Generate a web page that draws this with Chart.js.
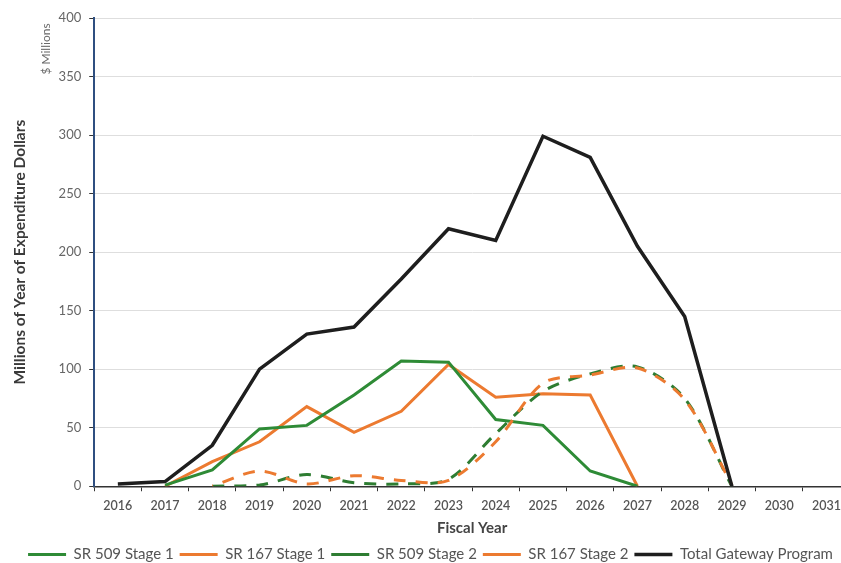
<!DOCTYPE html>
<html>
<head>
<meta charset="utf-8">
<script src="https://cdn.jsdelivr.net/npm/chart.js@4"></script>
<style>
html,body{margin:0;padding:0;background:#fff;overflow:hidden;width:841px;height:563px;}
#wrap{width:860px;height:574px;}
</style>
</head>
<body>
<div id="wrap"><canvas id="c" width="860" height="574"></canvas></div>
<script>
const years = ['2016','2017','2018','2019','2020','2021','2022','2023','2024','2025','2026','2027','2028','2029','2030','2031'];
const sr509Stage1 = [null, 1, 14, 49, 52, 78, 107, 106, 57, 52, 13, 0, null, null, null, null];
const sr167Stage1 = [null, 0, 21, 38, 68, 46, 64, 104, 76, 79, 78, 0, null, null, null, null];
const sr509Stage2 = [null, null, 0, 1, 10, 3, 2, 6, 45, 81, 96, 102, 75, 0, null, null];
const sr167Stage2 = [null, null, 0, 13, 2, 9, 5, 5, 38, 88, 95, 101, 74, 1, null, null];
const totalGateway = [2, 4, 35, 100, 130, 136, 177, 220, 210, 299, 281, 205, 145, 0, null, null];
const yTicks = [0, 50, 100, 150, 200, 250, 300, 350, 400];

const FONT = 'Lato, "Open Sans", sans-serif';

const sideLabel = {
  id: 'sideLabel',
  afterDraw(chart) {
    const ctx = chart.ctx;
    ctx.save();
    ctx.translate(46, 49);
    ctx.rotate(-Math.PI / 2);
    ctx.font = '12px ' + FONT;
    ctx.fillStyle = '#6a6a6a';
    ctx.textAlign = 'center';
    ctx.textBaseline = 'middle';
    ctx.fillText('$ Millions', 0, 0);
    ctx.restore();
  }
};

new Chart(document.getElementById('c'), {
  type: 'line',
  data: {
    labels: years,
    datasets: [
      { label: 'SR 509 Stage 1', data: sr509Stage1, borderColor: '#2e8b36', backgroundColor: '#2e8b36', borderWidth: 3, pointRadius: 0, tension: 0, order: 3 },
      { label: 'SR 167 Stage 1', data: sr167Stage1, borderColor: '#ec7a30', backgroundColor: '#ec7a30', borderWidth: 3, pointRadius: 0, tension: 0, order: 4 },
      { label: 'SR 509 Stage 2', data: sr509Stage2, borderColor: '#2e7d32', backgroundColor: '#2e7d32', borderWidth: 3, borderDash: [12, 10], pointRadius: 0, tension: 0.3, order: 2 },
      { label: 'SR 167 Stage 2', data: sr167Stage2, borderColor: '#ec7a30', backgroundColor: '#ec7a30', borderWidth: 3, borderDash: [12, 10], borderDashOffset: 11, pointRadius: 0, tension: 0.3, order: 1 },
      { label: 'Total Gateway Program', data: totalGateway, borderColor: '#1e1e1e', backgroundColor: '#1e1e1e', borderWidth: 3.5, pointRadius: 0, tension: 0, order: 0 }
    ]
  },
  options: {
    responsive: false,
    animation: false,
    layout: { padding: { top: 18, right: 10, left: 11, bottom: 2 } },
    plugins: {
      tooltip: { enabled: false },
      legend: {
        position: 'bottom',
        labels: {
          usePointStyle: true,
          pointStyle: 'line',
          pointStyleWidth: 38,
          boxHeight: 12,
          padding: 6,
          color: '#555',
          font: { family: FONT, size: 15 },
          sort: (a, b) => a.datasetIndex - b.datasetIndex
        }
      }
    },
    scales: {
      x: {
        offset: true,
        grid: { offset: true, drawOnChartArea: false, drawTicks: true, tickLength: 5, tickColor: '#333', color: '#333' },
        border: { display: true, color: '#333', width: 1.5 },
        ticks: { color: '#555', font: { family: FONT, size: 12.5, weight: '600', lineHeight: 0.9 }, padding: 9, maxRotation: 0, autoSkip: false },
        title: { display: true, text: 'Fiscal Year', color: '#444', font: { family: FONT, size: 15, weight: 'bold', lineHeight: 1.0 }, padding: { top: 0, bottom: 5.5 } }
      },
      y: {
        min: 0, max: 400,
        afterBuildTicks(axis) { axis.ticks = yTicks.map(v => ({ value: v })); },
        grid: { color: '#dedede', tickColor: '#333', tickLength: 5, lineWidth: 1 },
        border: { display: true, color: '#2f4f80', width: 2 },
        ticks: { color: '#666', font: { family: FONT, size: 13 }, padding: 8 },
        title: { display: true, text: 'Millions of Year of Expenditure Dollars', color: '#3a3a3a', font: { family: FONT, size: 15.5, weight: 'bold' }, padding: { top: 0, bottom: 21 } }
      }
    }
  },
  plugins: [sideLabel]
});
</script>
</body>
</html>
